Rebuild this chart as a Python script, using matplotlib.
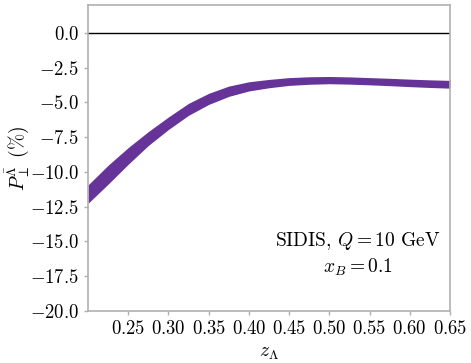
import numpy as np
import matplotlib
matplotlib.use('Agg')
import matplotlib.pyplot as plt

plt.rcParams['font.family'] = 'serif'
plt.rcParams['font.serif'] = ['cmr10']
plt.rcParams['mathtext.fontset'] = 'cm'
plt.rcParams['axes.formatter.use_mathtext'] = True

# band (z_Lambda, upper and lower edge in %)
z = [0.200, 0.225, 0.250, 0.275, 0.300, 0.325, 0.350, 0.375, 0.400, 0.425,
     0.450, 0.475, 0.500, 0.525, 0.550, 0.575, 0.600, 0.625, 0.650]
upper = [-10.94, -9.52, -8.25, -7.10, -6.05, -5.07, -4.35, -3.83, -3.52, -3.35,
         -3.22, -3.16, -3.14, -3.17, -3.22, -3.27, -3.33, -3.38, -3.42]
lower = [-12.26, -10.88, -9.45, -8.10, -6.95, -5.93, -5.15, -4.57, -4.18, -3.95,
         -3.78, -3.70, -3.66, -3.69, -3.74, -3.80, -3.87, -3.93, -3.98]

xticks = [0.25, 0.30, 0.35, 0.40, 0.45, 0.50, 0.55, 0.60, 0.65]
yticks = [0.0, -2.5, -5.0, -7.5, -10.0, -12.5, -15.0, -17.5, -20.0]

fig = plt.figure(figsize=(4.71, 3.63), dpi=100)
ax = fig.add_axes([88 / 471, 1 - 311 / 363, (450 - 88) / 471, (311 - 5) / 363])

ax.fill_between(z, lower, upper, color='#663399', lw=0)
ax.axhline(0, color='black', lw=1)

ax.set_xlim(0.2, 0.65)
ax.set_ylim(-20, 2)
ax.set_xticks(xticks)
ax.set_yticks(yticks)
ax.set_xticklabels(['$%.2f$' % t for t in xticks])
ax.set_yticklabels(['$%.1f$' % t for t in yticks])
ax.tick_params(labelsize=13.5, color='#b0b0b0', length=3, width=1)
for s in ax.spines.values():
    s.set_color('#b0b0b0')
    s.set_linewidth(1.2)

ax.set_xlabel(r'$z_\Lambda$', fontsize=14)
ax.set_ylabel(r'$P_\perp^{\bar{\Lambda}}\ (\%)$', fontsize=14, va='center')
ax.yaxis.set_label_coords(-0.196, 0.5)

ax.text(0.535, -15.0, r'SIDIS, $Q=10$ GeV', fontsize=14, ha='center', va='center')
ax.text(0.535, -16.85, r'$x_B=0.1$', fontsize=14, ha='center', va='center')

fig.savefig('out.png', dpi=100)
